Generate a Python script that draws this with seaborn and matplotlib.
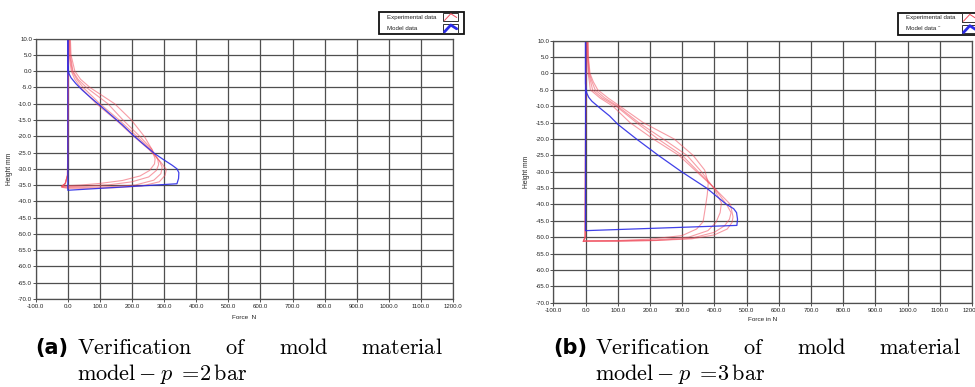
import matplotlib
matplotlib.use("Agg")
import matplotlib.pyplot as plt
from matplotlib.patches import Rectangle
from matplotlib.lines import Line2D
import seaborn as sns

# ---------------- data: p = 2 bar ----------------
model2_force = [0, 0, 1, 4, 10, 25, 45, 70, 100, 135, 170, 205, 240, 270, 300, 325, 340, 346, 345, 340, 0, 0]
model2_height = [10, 2, 0.5, -0.8, -2, -3.8, -5.8, -8, -10.5, -13.5, -16.5, -19.8, -22.8, -25.3, -27.3, -28.9, -30.0, -31.2, -33, -34.6, -36.6, 10]

exp2_a_force = [8, 10, 22, 40, 69, 146, 198, 238, 262, 272, 270, 255, 225, 170, 100, 40, 0, -20, -8, -1, 2]
exp2_a_height = [10, 5, 0, -2.5, -5, -10, -15, -20, -24, -27, -28.5, -30.5, -32.2, -33.6, -34.5, -35, -35.2, -35.4, -34.5, -32, 10]
exp2_b_force = [6, 8, 16, 32, 58, 125, 172, 224, 262, 280, 283, 276, 252, 200, 130, 60, 0, -20, -8, -1, 2]
exp2_b_height = [10, 5, 0, -2.5, -5, -10, -15, -20, -24, -27, -28.7, -30.5, -32.5, -34, -34.9, -35.3, -35.5, -35.5, -34.5, -32, 10]
exp2_c_force = [5, 6, 14, 28, 48, 100, 160, 215, 258, 285, 294, 290, 268, 210, 130, 50, 0, -20, -8, -1, 2]
exp2_c_height = [10, 5, 0, -2.5, -5, -10, -15, -20, -24, -27.5, -29.5, -31.5, -33.5, -35, -35.5, -35.7, -35.7, -35.6, -34.5, -32, 10]
exp2_d_force = [3, 4, 11, 22, 40, 89, 150, 205, 252, 290, 307, 303, 285, 230, 150, 60, 0, -18, -7, -1, 2]
exp2_d_height = [10, 5, 0, -2.5, -5, -10, -15, -20, -24, -28, -30.2, -32, -34, -35.3, -35.8, -36, -36, -35.7, -34.5, -32, 10]

# ---------------- data: p = 3 bar ----------------
model3_force = [0, 0, 1, 4, 10, 20, 32, 50, 75, 100, 158, 226, 298, 376, 438, 460, 469, 472, 470, 0, 0]
model3_height = [10, -3, -4.5, -6, -7.3, -8.5, -9.5, -11, -13, -15.5, -20, -25, -30, -35, -40, -41.3, -42.5, -44.5, -46.4, -48, 10]

exp3_a_force = [8, 9, 14, 24, 38, 70, 107, 179, 275, 334, 370, 381, 378, 372, 365, 345, 300, 200, 100, 0, -7, -1, 1]
exp3_a_height = [10, 5, 0, -2.5, -5, -7.5, -10, -15, -20, -25, -29.5, -33.5, -37, -41, -45.3, -47.5, -49.5, -50.6, -51, -51.1, -51.3, -50, 10]
exp3_b_force = [7, 8, 12, 20, 30, 60, 100, 165, 241, 315, 360, 398, 422, 418, 405, 380, 320, 220, 100, 0, -7, -1, 1]
exp3_b_height = [10, 5, 0, -2.5, -5, -7.5, -10, -15, -20, -25, -30, -35, -39.5, -42.5, -45.5, -48, -50, -50.8, -51.1, -51.2, -51.3, -50, 10]
exp3_c_force = [6, 7, 10, 16, 22, 52, 95, 158, 225, 300, 350, 400, 438, 452, 447, 432, 400, 330, 220, 100, 0, -7, -1, 1]
exp3_c_height = [10, 5, 0, -2.5, -5, -7.5, -10, -15, -20, -25, -30, -35, -40, -42.5, -44.5, -46.5, -48.5, -50.3, -51, -51.2, -51.2, -51.3, -50, 10]
exp3_d_force = [5, 6, 8, 12, 15, 45, 85, 138, 210, 290, 345, 400, 450, 458, 455, 440, 400, 330, 220, 100, 0, -7, -1, 1]
exp3_d_height = [10, 5, 0, -2.5, -5, -7.5, -10, -15, -20, -25, -30, -35, -40, -43.8, -45.5, -47.5, -49.3, -50.5, -51, -51.2, -51.2, -51.3, -50, 10]

# ---------------- axes and text ----------------
force_ticks = list(range(-100, 1201, 100))
height_ticks = list(range(10, -71, -5))
force_tick_labels = [f"{v:.1f}" for v in force_ticks]
height_tick_labels = [f"{v:.1f}" for v in height_ticks]
legend_labels = ["Experimental data", "Model data"]
caption_words_a = [r"$\mathrm{Verification}$", r"$\mathrm{of}$", r"$\mathrm{mold}$", r"$\mathrm{material}$"]
caption_words_b = caption_words_a
caption_line2_a = r"$\mathrm{model} - p\ =\!2\,\mathrm{bar}$"
caption_line2_b = r"$\mathrm{model} - p\ =\!3\,\mathrm{bar}$"

sns.set_theme(style="white")
plt.rcParams["font.family"] = ["Liberation Sans", "DejaVu Sans"]
plt.rcParams["axes.unicode_minus"] = False
plt.rcParams["mathtext.fontset"] = "cm"

W, H = 975, 387
fig = plt.figure(figsize=(W / 100, H / 100), dpi=100)
fig.patch.set_facecolor("white")


def fx(x):
    return x / W


def fy(y):
    return 1 - y / H


def axes_px(x0, y0, x1, y1):
    return fig.add_axes([fx(x0), fy(y1), fx(x1) - fx(x0), (y1 - y0) / H])


RED = "#f04c5c"
BLUE = "#2b2be6"
GRID = "#4f4f4f"


def draw_panel(ax, exp_curves, model_curve, xlabel, xlabel_y):
    for f, h in exp_curves:
        sns.lineplot(x=f, y=h, sort=False, estimator=None, color=RED,
                     lw=0.8, alpha=0.55, ax=ax)
    sns.lineplot(x=model_curve[0], y=model_curve[1], sort=False, estimator=None,
                 color=BLUE, lw=0.9, alpha=0.9, ax=ax)
    ax.set_xlim(-100, 1200)
    ax.set_ylim(-70, 10)
    ax.set_xticks(force_ticks)
    ax.set_xticklabels(force_tick_labels)
    ax.set_yticks(height_ticks)
    ax.set_yticklabels(height_tick_labels)
    ax.grid(True, color=GRID, lw=0.9)
    ax.set_axisbelow(True)
    for s in ax.spines.values():
        s.set_color(GRID)
        s.set_linewidth(0.9)
    ax.tick_params(axis="both", length=2, width=0.6, color="#333333",
                   labelsize=4.4, labelcolor="#222222", pad=0.6,
                   left=True, bottom=True)
    ax.tick_params(axis="x", pad=1.6)
    ax.set_xlabel(xlabel, fontsize=4.6, color="#222222")
    ax.set_ylabel("Height mm", fontsize=4.8, color="#222222")
    ax.xaxis.set_label_coords(0.5, xlabel_y)
    ax.yaxis.set_label_coords(-0.055, 0.5)


ax_a = axes_px(35.7, 38.7, 453, 298.9)
draw_panel(ax_a,
           [(exp2_a_force, exp2_a_height), (exp2_b_force, exp2_b_height),
            (exp2_c_force, exp2_c_height), (exp2_d_force, exp2_d_height)],
           (model2_force, model2_height), "Force  N", -0.06)

ax_b = axes_px(553.3, 40.7, 972, 302.7)
draw_panel(ax_b,
           [(exp3_a_force, exp3_a_height), (exp3_b_force, exp3_b_height),
            (exp3_c_force, exp3_c_height), (exp3_d_force, exp3_d_height)],
           (model3_force, model3_height), "Force in N", -0.055)


def draw_legend(x0, y0, x1, y1, labels):
    tf = fig.transFigure
    fig.add_artist(Rectangle((fx(x0), fy(y1)), fx(x1) - fx(x0), (y1 - y0) / H,
                             transform=tf, fill=True, facecolor="white",
                             edgecolor="#111111", lw=1.3))
    rows = [(y0 + 5.0, RED, 0.7), (y0 + 16.3, BLUE, 2.0)]
    for (yc, col, lw), lab in zip(rows, labels):
        fig.text(fx(x0 + 7.5), fy(yc), lab, fontsize=4.4, color="#222222",
                 va="center", ha="left")
        bx = x0 + 64
        fig.add_artist(Rectangle((fx(bx), fy(yc + 4.3)), fx(14.4), 8.6 / H,
                                 transform=tf, fill=False,
                                 edgecolor="#333333", lw=0.7))
        fig.add_artist(Line2D([fx(bx + 1.2), fx(bx + 7.5), fx(bx + 13.4)],
                              [fy(yc + 3.5), fy(yc - 3.3), fy(yc + 0.5)],
                              transform=tf, color=col, lw=lw))


draw_legend(379.3, 12, 464.3, 34.3, legend_labels)
draw_legend(898.3, 12.7, 983.3, 35.3, [legend_labels[0], legend_labels[1] + " \u02dd"])

# ---------------- captions ----------------
fig.canvas.draw()
renderer = fig.canvas.get_renderer()
CAP_SIZE = 16


def justified(words, x_start, x_end, y_base):
    arts = [fig.text(fx(x_start), fy(y_base), w, fontsize=CAP_SIZE,
                     va="baseline", ha="left", color="black") for w in words]
    widths = [a.get_window_extent(renderer).width for a in arts]
    gap = (x_end - x_start - sum(widths)) / (len(words) - 1)
    x = x_start
    for a, w in zip(arts, widths):
        a.set_x(fx(x))
        x += w + gap


def caption(tag, x_tag, x_text, x_end, words, line2):
    fig.text(fx(x_tag), fy(354), tag, fontsize=CAP_SIZE - 1, fontweight="bold",
             family="DejaVu Sans", va="baseline", ha="left", color="black")
    justified(words, x_text, x_end, 354)
    fig.text(fx(x_text), fy(380), line2, fontsize=CAP_SIZE, va="baseline",
             ha="left", color="black")


caption("(a)", 35, 77, 443, caption_words_a, caption_line2_a)
caption("(b)", 553, 595, 961, caption_words_b, caption_line2_b)

fig.savefig("out.png", dpi=100, facecolor="white")
